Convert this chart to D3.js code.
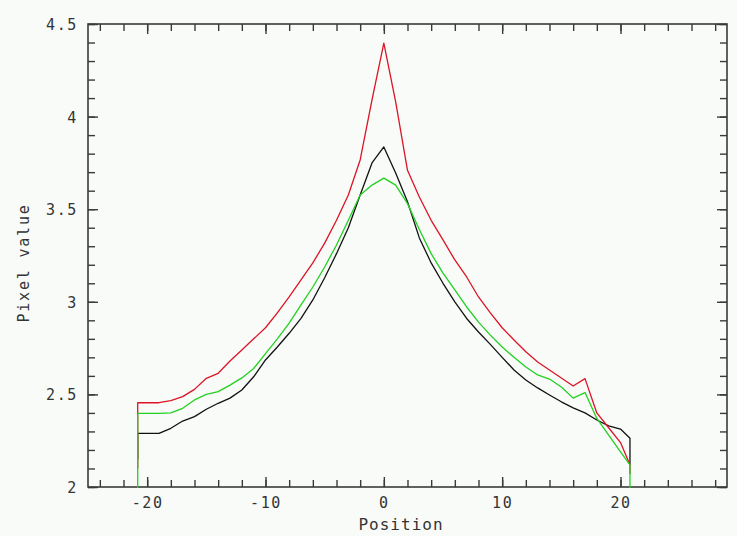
<!DOCTYPE html>
<html>
<head>
<meta charset="utf-8">
<script src="https://cdn.jsdelivr.net/npm/d3@7"></script>
<style>
  html, body { margin: 0; padding: 0; background: #f8fbf8; }
  svg { display: block; }
  text { font-family: "DejaVu Sans Mono", "Liberation Mono", monospace; fill: #333; }
</style>
</head>
<body>
<svg id="chart" width="737" height="536"></svg>
<script>
// ---- data ----
const positions = [-20.8, -20.8,
  -20, -19, -18, -17, -16, -15, -14, -13, -12, -11, -10, -9, -8, -7, -6, -5, -4, -3, -2, -1,
  0, 1, 2, 3, 4, 5, 6, 7, 8, 9, 10, 11, 12, 13, 14, 15, 16, 17, 18, 19, 20,
  20.8, 20.8];

const redValues = [2.10, 2.455,
  2.455, 2.455, 2.466, 2.488, 2.527, 2.587, 2.614, 2.68, 2.74, 2.80, 2.86, 2.94, 3.026, 3.118, 3.21, 3.317, 3.44, 3.577, 3.766, 4.09,
  4.397, 4.08, 3.71, 3.566, 3.44, 3.334, 3.226, 3.134, 3.026, 2.94, 2.86, 2.794, 2.73, 2.675, 2.632, 2.589, 2.545, 2.585, 2.40, 2.32, 2.24,
  2.12, 2.07];

const greenValues = [1.995, 2.398,
  2.398, 2.398, 2.40, 2.425, 2.47, 2.50, 2.515, 2.55, 2.589, 2.64, 2.72, 2.80, 2.885, 2.983, 3.08, 3.188, 3.307, 3.44, 3.577, 3.63,
  3.668, 3.63, 3.53, 3.39, 3.26, 3.155, 3.064, 2.972, 2.89, 2.82, 2.756, 2.70, 2.648, 2.605, 2.583, 2.54, 2.48, 2.51, 2.37, 2.28, 2.19,
  2.12, 1.995];

const blackValues = [2.15, 2.29,
  2.29, 2.29, 2.317, 2.356, 2.38, 2.42, 2.452, 2.48, 2.524, 2.595, 2.686, 2.756, 2.83, 2.91, 3.01, 3.13, 3.26, 3.40, 3.577, 3.75,
  3.836, 3.695, 3.54, 3.345, 3.21, 3.10, 3.0, 2.91, 2.837, 2.77, 2.70, 2.632, 2.578, 2.535, 2.497, 2.46, 2.427, 2.40, 2.362, 2.33, 2.313,
  2.263, 2.12];

const xMajorTicks = [-20, -10, 0, 10, 20];
const xMinorTicks = d3.range(-24, 29, 2);
const yMajorTicks = [2, 2.5, 3, 3.5, 4, 4.5];
const yMinorTicks = d3.range(20, 46, 1).map(d => d / 10);

const xTitle = "Position";
const yTitle = "Pixel value";

// ---- layout ----
const svg = d3.select("#chart");
const W = 737, H = 536;
const L = 88, R = 727, T = 24, B = 487;

svg.append("rect").attr("width", W).attr("height", H).attr("fill", "#f8fbf8");

const x = d3.scaleLinear().domain([-25, 29]).range([L, R]);
const y = d3.scaleLinear().domain([2, 4.5]).range([B, T]);

const axisColor = "#3a3a3a";
const fmt = d => String(d);

function styleAxis(g) {
  g.select(".domain").remove();
  g.selectAll("line").attr("stroke", axisColor).attr("stroke-width", 1.4);
  g.selectAll("text")
    .style("font-family", "'DejaVu Sans Mono', monospace")
    .style("font-size", "15px")
    .style("letter-spacing", "1.6px")
    .attr("fill", "#333");
}

// bottom axis
const gB = svg.append("g").attr("transform", `translate(0,${B})`);
gB.append("g").call(d3.axisBottom(x).tickValues(xMinorTicks).tickSize(-7).tickFormat("")).call(styleAxis);
gB.append("g").call(d3.axisBottom(x).tickValues(xMajorTicks).tickSize(-10).tickPadding(10).tickFormat(fmt)).call(styleAxis);
// top axis
const gT = svg.append("g").attr("transform", `translate(0,${T})`);
gT.append("g").call(d3.axisTop(x).tickValues(xMinorTicks).tickSize(-7).tickFormat("")).call(styleAxis);
gT.append("g").call(d3.axisTop(x).tickValues(xMajorTicks).tickSize(-10).tickFormat("")).call(styleAxis);
// left axis
const gL = svg.append("g").attr("transform", `translate(${L},0)`);
gL.append("g").call(d3.axisLeft(y).tickValues(yMinorTicks).tickSize(-7).tickFormat("")).call(styleAxis);
const majL = gL.append("g").call(d3.axisLeft(y).tickValues(yMajorTicks).tickSize(-10).tickPadding(10).tickFormat(fmt)).call(styleAxis);
majL.selectAll("text").attr("dy", "0.36em");
// right axis
const gR = svg.append("g").attr("transform", `translate(${R},0)`);
gR.append("g").call(d3.axisRight(y).tickValues(yMinorTicks).tickSize(-7).tickFormat("")).call(styleAxis);
gR.append("g").call(d3.axisRight(y).tickValues(yMajorTicks).tickSize(-10).tickFormat("")).call(styleAxis);

// frame
svg.append("rect")
  .attr("x", L).attr("y", T).attr("width", R - L).attr("height", B - T)
  .attr("fill", "none").attr("stroke", axisColor).attr("stroke-width", 1.6);

// lines
const line = d3.line().x((d, i) => x(positions[i])).y(d => y(d));
const series = [
  { values: blackValues, color: "#111111" },
  { values: redValues, color: "#dc1426" },
  { values: greenValues, color: "#22d022" }
];
svg.append("g").selectAll("path").data(series).join("path")
  .attr("d", d => line(d.values))
  .attr("fill", "none")
  .attr("stroke", d => d.color)
  .attr("stroke-width", 1.3)
  .attr("stroke-linejoin", "round");

// titles
svg.append("text")
  .attr("x", 401).attr("y", 530)
  .attr("text-anchor", "middle")
  .style("font-size", "16px").style("letter-spacing", "1.0px")
  .text(xTitle);

svg.append("text")
  .attr("transform", "translate(28.5,263) rotate(-90)")
  .attr("text-anchor", "middle")
  .style("font-size", "15px").style("letter-spacing", "1.8px")
  .text(yTitle);
</script>
</body>
</html>
